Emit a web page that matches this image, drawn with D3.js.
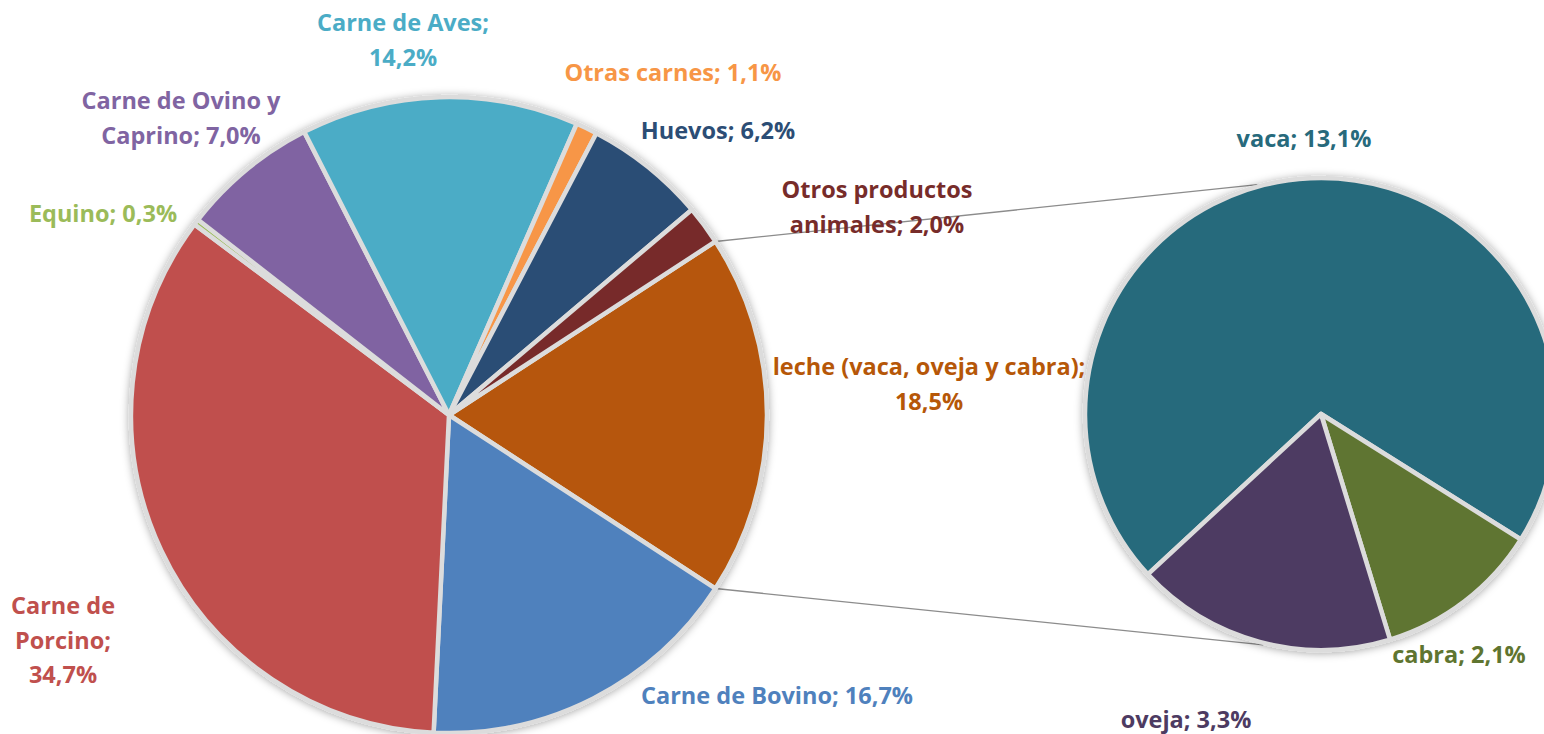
<!DOCTYPE html>
<html>
<head>
<meta charset="utf-8">
<script src="https://cdn.jsdelivr.net/npm/d3@7"></script>
<style>
  html, body { margin: 0; padding: 0; background: #fff; }
  svg text { font-family: "Open Sans", "Noto Sans", sans-serif; font-weight: 700; }
</style>
</head>
<body>
<svg id="chart" width="1544" height="734"></svg>
<script>
// main pie, clockwise starting with the split slice
const categories = ['leche (vaca, oveja y cabra)', 'Carne de Bovino', 'Carne de Porcino', 'Equino',
  'Carne de Ovino y Caprino', 'Carne de Aves', 'Otras carnes', 'Huevos', 'Otros productos animales'];
const values = [18.5, 16.7, 34.7, 0.3, 7.0, 14.2, 1.1, 6.2, 2.0];
const colors = ['#b65708', '#4f81bd', '#c0504d', '#9bbb59', '#8064a2', '#4bacc6', '#f79646', '#2c4d75', '#772c2a'];

// secondary pie (breakdown of leche)
const subCategories = ['vaca', 'cabra', 'oveja'];
const subValues = [13.1, 2.1, 3.3];
const subColors = ['#276a7c', '#5f7530', '#4d3b62'];

const fmt = v => v.toFixed(1).replace('.', ',') + '%';

// label layout: lines (text before the value) and centre position
const labelLayout = {
  'leche (vaca, oveja y cabra)': { lines: ['leche (vaca, oveja y cabra);'], x: 929, y: 367 },
  'Carne de Bovino': { lines: [], inline: 'Carne de Bovino; ', x: 777, y: 696 },
  'Carne de Porcino': { lines: ['Carne de', 'Porcino;'], x: 63, y: 606 },
  'Equino': { lines: [], inline: 'Equino; ', x: 103, y: 214 },
  'Carne de Ovino y Caprino': { lines: ['Carne de Ovino y'], inline: 'Caprino; ', x: 181, y: 101 },
  'Carne de Aves': { lines: ['Carne de Aves;'], x: 403, y: 23 },
  'Otras carnes': { lines: [], inline: 'Otras carnes; ', x: 673, y: 73 },
  'Huevos': { lines: [], inline: 'Huevos; ', x: 718, y: 131 },
  'Otros productos animales': { lines: ['Otros productos'], inline: 'animales; ', x: 877, y: 190 },
  'vaca': { lines: [], inline: 'vaca; ', x: 1304, y: 139 },
  'cabra': { lines: [], inline: 'cabra; ', x: 1459, y: 655 },
  'oveja': { lines: [], inline: 'oveja; ', x: 1186, y: 720 }
};

const svg = d3.select('#chart');
const lineH = 34.5;

const defs = svg.append('defs');
const shadow = defs.append('filter').attr('id', 'shadow')
  .attr('x', '-10%').attr('y', '-10%').attr('width', '120%').attr('height', '120%');
shadow.append('feDropShadow')
  .attr('dx', 0).attr('dy', 1).attr('stdDeviation', 4)
  .attr('flood-color', '#000').attr('flood-opacity', 0.35);

const mainC = { x: 449, y: 415, r: 318 };
const subC = { x: 1321, y: 414, r: 236 };

// split slice centred on 3 o'clock
const lecheAngle = values[0] / d3.sum(values) * 2 * Math.PI;
const mainPie = d3.pie().sort(null)
  .startAngle(Math.PI / 2 - lecheAngle / 2)
  .endAngle(Math.PI / 2 - lecheAngle / 2 + 2 * Math.PI);
const mainArcs = mainPie(values);

const subStart = 122.5 * Math.PI / 180;
const subPie = d3.pie().sort(null)
  .startAngle(subStart - 255.3 * Math.PI / 180)
  .endAngle(subStart - 255.3 * Math.PI / 180 + 2 * Math.PI);
const subArcs = subPie(subValues);

const arcMain = d3.arc().innerRadius(0).outerRadius(mainC.r);
const arcSub = d3.arc().innerRadius(0).outerRadius(subC.r);

// connector lines
const pt = (c, a, r) => [c.x + r * Math.sin(a), c.y - r * Math.cos(a)];
const lecheArc = mainArcs[0];
const connectors = [
  [pt(mainC, lecheArc.startAngle, mainC.r), pt(subC, -15.5 * Math.PI / 180, subC.r + 2)],
  [pt(mainC, lecheArc.endAngle, mainC.r), pt(subC, 194 * Math.PI / 180, subC.r + 2)]
];
svg.append('g').selectAll('line').data(connectors).join('line')
  .attr('x1', d => d[0][0]).attr('y1', d => d[0][1])
  .attr('x2', d => d[1][0]).attr('y2', d => d[1][1])
  .attr('stroke', '#8c8c8c').attr('stroke-width', 1.3);

const gMain = svg.append('g')
  .attr('transform', `translate(${mainC.x},${mainC.y})`)
  .attr('filter', 'url(#shadow)');
gMain.selectAll('path').data(mainArcs).join('path')
  .attr('d', arcMain)
  .attr('fill', (d, i) => colors[i])
  .attr('stroke', '#dcdcdc').attr('stroke-width', 4.5)
  .attr('stroke-linejoin', 'round');

const gSub = svg.append('g')
  .attr('transform', `translate(${subC.x},${subC.y})`)
  .attr('filter', 'url(#shadow)');
gSub.selectAll('path').data(subArcs).join('path')
  .attr('d', arcSub)
  .attr('fill', (d, i) => subColors[i])
  .attr('stroke', '#dcdcdc').attr('stroke-width', 4.5)
  .attr('stroke-linejoin', 'round');

function drawLabel(name, value, color) {
  const L = labelLayout[name];
  const t = svg.append('text')
    .attr('text-anchor', 'middle')
    .attr('font-size', 23.5)
    .attr('fill', color);
  const rows = L.lines.slice();
  rows.push((L.inline || '') + fmt(value));
  rows.forEach((s, i) => {
    t.append('tspan').attr('x', L.x).attr('y', L.y + i * lineH)
      .attr('dy', '0.35em').text(s);
  });
}

categories.forEach((c, i) => drawLabel(c, values[i], colors[i]));
subCategories.forEach((c, i) => drawLabel(c, subValues[i], subColors[i]));
</script>
</body>
</html>
